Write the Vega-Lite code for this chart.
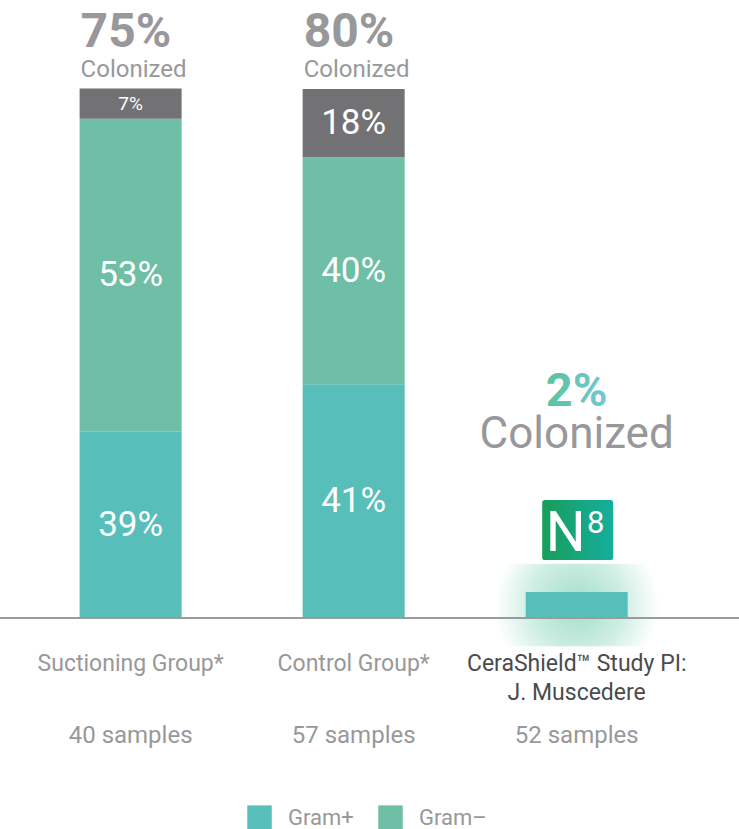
{
  "$schema": "https://vega.github.io/schema/vega-lite/v6.json",
  "width": 739,
  "height": 829,
  "padding": 0,
  "autosize": {"type": "none"},
  "background": "white",
  "config": {"view": {"stroke": null}, "font": "Roboto", "text": {"font": "Roboto"}, "axis": {"disable": true}},
  "datasets": {
    "segments": [
      {"group": "Suctioning", "type": "Gram+", "h": 35.2, "label": "39%"},
      {"group": "Suctioning", "type": "Gram–", "h": 59.2, "label": "53%"},
      {"group": "Suctioning", "type": "Other", "h": 5.7, "label": "7%"},
      {"group": "Control", "type": "Gram+", "h": 44.2, "label": "41%"},
      {"group": "Control", "type": "Gram–", "h": 42.9, "label": "40%"},
      {"group": "Control", "type": "Other", "h": 12.9, "label": "18%"},
      {"group": "CeraShield", "type": "Gram+", "h": 4.9, "label": ""}
    ],
    "groups": [
      {"group": "Suctioning", "name": "Suctioning Group*", "samples": "40 samples", "colonized": "75%"},
      {"group": "Control", "name": "Control Group*", "samples": "57 samples", "colonized": "80%"},
      {"group": "CeraShield", "name": ["CeraShield™ Study PI:", "J. Muscedere"], "samples": "52 samples", "colonized": "2%"}
    ]
  },
  "layer": [
    {
      "data": {"name": "segments"},
      "transform": [{"filter": "datum.group == 'CeraShield'"}],
      "mark": {
        "type": "point", "filled": true, "opacity": 1, "strokeWidth": 0,
        "shape": "M-1,-0.5H1V0.5H-1Z", "size": 27225, "yOffset": 13,
        "color": {"gradient": "radial", "x1": 0.5, "y1": 0.5, "r1": 0, "x2": 0.5, "y2": 0.5, "r2": 0.5,
          "stops": [
            {"offset": 0, "color": "rgba(100,200,165,0.6)"},
            {"offset": 0.55, "color": "rgba(100,200,165,0.32)"},
            {"offset": 1, "color": "rgba(100,200,165,0)"}
          ]}
      },
      "encoding": {
        "x": {"field": "group", "type": "nominal", "axis": null,
          "scale": {"type": "band", "domain": ["Suctioning", "Control", "CeraShield"], "paddingInner": 0.5426, "paddingOuter": 0.428, "align": 0.417}},
        "y": {"field": "h", "type": "quantitative", "axis": null, "scale": {"domain": [-39.89, 116.83], "nice": false, "zero": false}}
      }
    },
    {
      "data": {"name": "segments"},
      "transform": [{"stack": "h", "groupby": ["group"], "sort": [{"field": "type", "order": "ascending"}], "as": ["lo", "hi"]}],
      "mark": {"type": "bar"},
      "encoding": {
        "x": {"field": "group", "type": "nominal", "axis": null},
        "y": {"field": "lo", "type": "quantitative", "axis": null},
        "y2": {"field": "hi"},
        "color": {
          "field": "type", "type": "nominal",
          "scale": {"domain": ["Gram+", "Gram–", "Other"], "range": ["#57BEBA", "#6EBFA5", "#727274"]},
          "legend": {
            "orient": "none", "legendX": 247, "legendY": 805, "direction": "horizontal", "title": null,
            "values": ["Gram+", "Gram–"], "symbolType": "square", "symbolSize": 600, "symbolStrokeWidth": 0,
            "labelFontSize": 22, "labelColor": "#98989B", "labelFont": "Roboto", "labelOffset": 16, "columnPadding": 24
          }
        }
      }
    },
    {
      "data": {"name": "segments"},
      "transform": [
        {"stack": "h", "groupby": ["group"], "sort": [{"field": "type", "order": "ascending"}], "as": ["lo", "hi"]},
        {"calculate": "(datum.lo + datum.hi) / 2", "as": "mid"},
        {"filter": "datum.label != ''"}
      ],
      "mark": {"type": "text", "color": "white", "baseline": "middle", "align": "center"},
      "encoding": {
        "x": {"field": "group", "type": "nominal", "axis": null},
        "y": {"field": "mid", "type": "quantitative", "axis": null},
        "text": {"field": "label", "type": "nominal"},
        "size": {"condition": {"test": "datum.h < 8", "value": 19}, "value": 35}
      }
    },
    {
      "data": {"values": [{"base": 0}]},
      "mark": {"type": "rule", "color": "#9B9B9E", "strokeWidth": 2, "xOffset": 9},
      "encoding": {
        "y": {"field": "base", "type": "quantitative", "axis": null}
      }
    },
    {
      "data": {"name": "groups"},
      "transform": [{"filter": "datum.group != 'CeraShield'"}],
      "mark": {"type": "text", "color": "#98989B", "fontWeight": "bold", "fontSize": 48, "align": "left", "baseline": "alphabetic", "dx": 1, "dy": -42},
      "encoding": {
        "x": {"field": "group", "type": "nominal", "axis": null, "bandPosition": 0},
        "y": {"datum": 100, "type": "quantitative", "axis": null},
        "text": {"field": "colonized", "type": "nominal"}
      }
    },
    {
      "data": {"name": "groups"},
      "transform": [{"filter": "datum.group != 'CeraShield'"}],
      "mark": {"type": "text", "color": "#98989B", "fontSize": 24, "align": "left", "baseline": "alphabetic", "dx": 1, "dy": -12, "text": "Colonized"},
      "encoding": {
        "x": {"field": "group", "type": "nominal", "axis": null, "bandPosition": 0},
        "y": {"datum": 100, "type": "quantitative", "axis": null}
      }
    },
    {
      "data": {"name": "groups"},
      "transform": [{"filter": "datum.group == 'CeraShield'"}],
      "mark": {
        "type": "text", "fontWeight": "bold", "fontSize": 47, "align": "center", "baseline": "alphabetic", "dy": -186,
        "color": {"gradient": "linear", "x1": 0, "y1": 0, "x2": 1, "y2": 0,
          "stops": [{"offset": 0, "color": "#5BC39C"}, {"offset": 1, "color": "#72C8D6"}]}
      },
      "encoding": {
        "x": {"field": "group", "type": "nominal", "axis": null},
        "y": {"datum": 4.9, "type": "quantitative", "axis": null},
        "text": {"field": "colonized", "type": "nominal"}
      }
    },
    {
      "data": {"name": "groups"},
      "transform": [{"filter": "datum.group == 'CeraShield'"}],
      "mark": {"type": "text", "color": "#98989B", "fontSize": 44, "align": "center", "baseline": "alphabetic", "dy": -144, "text": "Colonized"},
      "encoding": {
        "x": {"field": "group", "type": "nominal", "axis": null},
        "y": {"datum": 4.9, "type": "quantitative", "axis": null}
      }
    },
    {
      "data": {"name": "groups"},
      "transform": [{"filter": "datum.group == 'CeraShield'"}],
      "mark": {
        "type": "point", "filled": true, "opacity": 1, "strokeWidth": 0, "xOffset": 1, "yOffset": -62,
        "shape": "M-0.92,-0.845H0.92Q1,-0.845 1,-0.765V0.765Q1,0.845 0.92,0.845H-0.92Q-1,0.845 -1,0.765V-0.765Q-1,-0.845 -0.92,-0.845Z",
        "size": 5041,
        "color": {"gradient": "linear", "x1": 0, "y1": 0, "x2": 1, "y2": 0,
          "stops": [{"offset": 0, "color": "#199D59"}, {"offset": 1, "color": "#15AE9F"}]}
      },
      "encoding": {
        "x": {"field": "group", "type": "nominal", "axis": null},
        "y": {"datum": 4.9, "type": "quantitative", "axis": null}
      }
    },
    {
      "data": {"name": "groups"},
      "transform": [{"filter": "datum.group == 'CeraShield'"}],
      "mark": {"type": "text", "color": "white", "fontSize": 56, "align": "center", "baseline": "alphabetic", "dx": -11, "dy": -41, "text": "N"},
      "encoding": {
        "x": {"field": "group", "type": "nominal", "axis": null},
        "y": {"datum": 4.9, "type": "quantitative", "axis": null}
      }
    },
    {
      "data": {"name": "groups"},
      "transform": [{"filter": "datum.group == 'CeraShield'"}],
      "mark": {"type": "text", "color": "white", "fontSize": 31, "align": "center", "baseline": "alphabetic", "dx": 19, "dy": -59, "text": "8"},
      "encoding": {
        "x": {"field": "group", "type": "nominal", "axis": null},
        "y": {"datum": 4.9, "type": "quantitative", "axis": null}
      }
    },
    {
      "data": {"name": "groups"},
      "mark": {"type": "text", "fontSize": 23, "lineHeight": 29, "align": "center", "baseline": "alphabetic", "dy": 53},
      "encoding": {
        "x": {"field": "group", "type": "nominal", "axis": null},
        "y": {"datum": 0, "type": "quantitative", "axis": null},
        "text": {"field": "name", "type": "nominal"},
        "color": {"condition": {"test": "datum.group == 'CeraShield'", "value": "#4B4B4D"}, "value": "#98989B"}
      }
    },
    {
      "data": {"name": "groups"},
      "mark": {"type": "text", "fontSize": 24, "color": "#98989B", "align": "center", "baseline": "alphabetic", "dy": 125},
      "encoding": {
        "x": {"field": "group", "type": "nominal", "axis": null},
        "y": {"datum": 0, "type": "quantitative", "axis": null},
        "text": {"field": "samples", "type": "nominal"}
      }
    }
  ]
}
